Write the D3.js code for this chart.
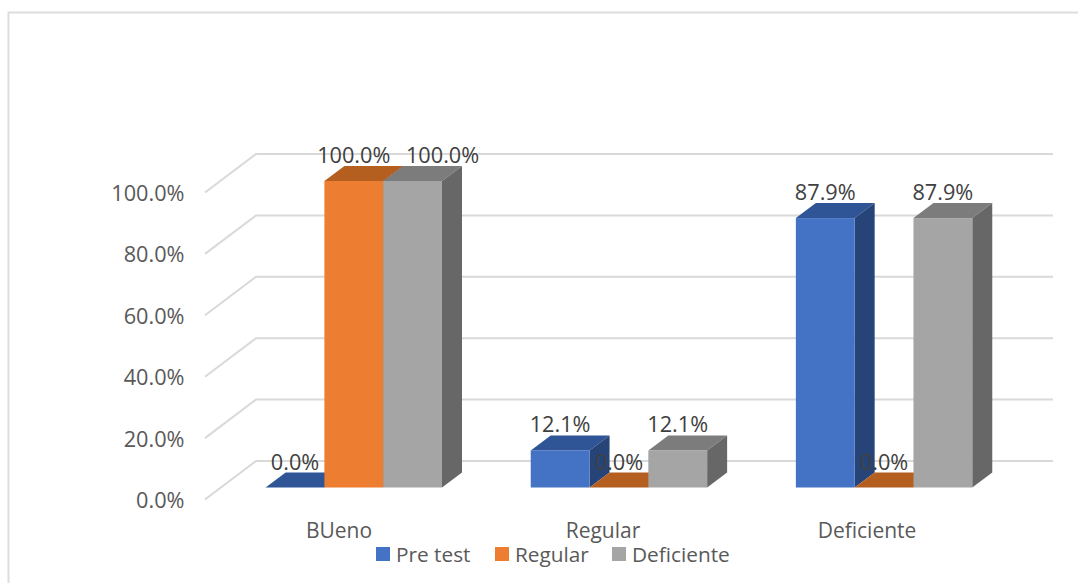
<!DOCTYPE html>
<html><head><meta charset="utf-8">
<script src="https://cdn.jsdelivr.net/npm/d3@7"></script>
<style>
html,body{margin:0;padding:0;background:#fff;overflow:hidden}
text{font-family:"Open Sans",sans-serif}
</style></head><body><svg id="c" width="1078" height="583"></svg>
<script>
const categories = ["BUeno","Regular","Deficiente"];
const seriesNames = ["Pre test","Regular","Deficiente"];
const preTest = [0, 0.121, 0.879];
const regular = [1, 0, 0];
const deficiente = [1, 0.121, 0.879];
const yTicks = [0,0.2,0.4,0.6,0.8,1];
const seriesValues = [preTest, regular, deficiente];
const frontColors = ["#4472C4","#ED7D31","#A5A5A5"];
const topColors = ["#2F5597","#B45F20","#7C7C7C"];
const sideColors = ["#264478","#9E4F18","#676767"];

const svg = d3.select("#c");
const fmt = d3.format(".1%");
const grey = "#D9D9D9";

// chart frame
svg.append("path").attr("d","M8.5,583V12.5H1078").attr("fill","none").attr("stroke","#DDDDDD").attr("stroke-width",2);

// 3D frame
const depthX = 20, depthY = -15;          // bar depth
const wallDX = 51, wallDY = -38.5;        // wall depth
const axisY = d3.scaleLinear().domain([0,1]).range([499.5,192.5]); // front edge of the floor
const barY  = d3.scaleLinear().domain([0,1]).range([487.5,181]);   // front of the bars
const catX = d3.scaleBand().domain(categories).range([265.6,1061]);
const seriesX = d3.scaleBand().domain(d3.range(3)).range([0,176.4]);

// gridlines on side and back wall
const grid = svg.append("g").attr("fill","none").attr("stroke",grey).attr("stroke-width",2);
yTicks.forEach(t=>{
  const y = axisY(t);
  grid.append("path").attr("d",`M205,${y}L${205+wallDX},${y+wallDY}H1053`);
});

// y axis labels
const yAxis = d3.axisLeft(axisY).tickValues(yTicks).tickFormat(fmt).tickSize(0).tickPadding(0);
const yg = svg.append("g").attr("transform","translate(184.5,0)").call(yAxis);
yg.select(".domain").remove();
yg.selectAll("text").attr("font-size",21.7).attr("dy","0.37em").attr("fill","#595959").attr("font-family",'"Open Sans",sans-serif');

// bars
const bars = svg.append("g");
const labelData = [];
categories.forEach((cat,ci)=>{
  seriesValues.forEach((vals,si)=>{
    const v = vals[ci];
    const x0 = catX(cat)+seriesX(si), w = seriesX.bandwidth();
    const yT = barY(v), yB = barY(0);
    const g = bars.append("g");
    g.append("path").attr("fill",topColors[si])
      .attr("d",`M${x0},${yT}l${depthX},${depthY}h${w}l${-depthX},${-depthY}Z`);
    if(v>0){
      g.append("path").attr("fill",sideColors[si])
        .attr("d",`M${x0+w},${yT}l${depthX},${depthY}V${yB+depthY}l${-depthX},${-depthY}Z`);
      g.append("rect").attr("x",x0).attr("y",yT).attr("width",w).attr("height",yB-yT).attr("fill",frontColors[si]);
    }
    labelData.push({v,x:x0+w/2+(ci===0&&si===2?30:0),y:yT-18});
  });
});

// value labels
svg.append("g").selectAll("text").data(labelData).join("text")
  .attr("x",d=>d.x).attr("y",d=>d.y).attr("text-anchor","middle")
  .attr("font-size",21.7).attr("fill","#404040").text(d=>fmt(d.v));

// category labels
const catLabelX = d3.scaleBand().domain(categories).range([207,999]);
svg.append("g").selectAll("text").data(categories).join("text")
  .attr("x",d=>catLabelX(d)+catLabelX.bandwidth()/2).attr("y",538).attr("text-anchor","middle")
  .attr("font-size",21).attr("fill","#595959").text(d=>d);

// legend
const legendX = [376,495,612];
const leg = svg.append("g").selectAll("g").data(seriesNames).join("g")
  .attr("transform",(d,i)=>`translate(${legendX[i]},547)`);
leg.append("rect").attr("width",14).attr("height",14).attr("fill",(d,i)=>frontColors[i]);
leg.append("text").attr("x",20).attr("y",14.5).attr("font-size",20.8).attr("fill","#595959").text(d=>d);
</script></body></html>
